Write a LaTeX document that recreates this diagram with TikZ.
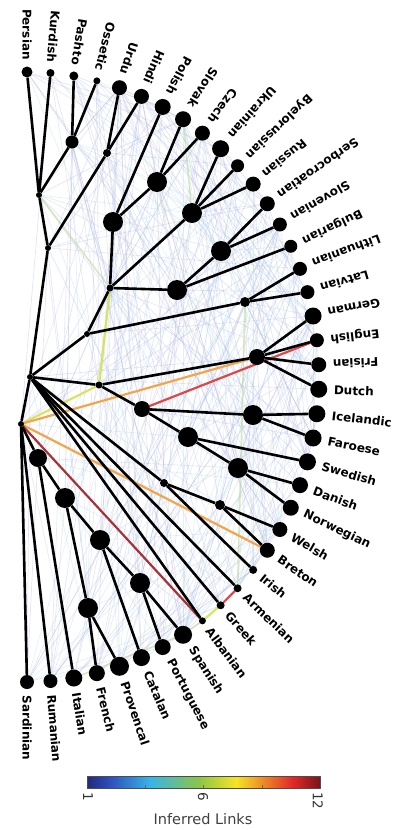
\documentclass[tikz,border=0pt]{standalone}
\usepackage{fontspec}
\setmainfont{DejaVu Sans}
\usepackage{tikz}

\definecolor{jet0}{RGB}{35,40,125}
\definecolor{jet1}{RGB}{45,80,190}
\definecolor{jet2}{RGB}{55,180,232}
\definecolor{jet3}{RGB}{140,198,70}
\definecolor{jet4}{RGB}{246,228,35}
\definecolor{jet5}{RGB}{228,40,40}
\definecolor{jet6}{RGB}{120,20,25}
\definecolor{meshA}{RGB}{165,175,230}
\definecolor{meshB}{RGB}{170,210,235}
\definecolor{meshC}{RGB}{185,185,215}
\definecolor{linkorange}{RGB}{242,165,75}
\definecolor{linkred}{RGB}{225,70,70}
\definecolor{linkbrown}{RGB}{165,50,55}
\definecolor{linkyellow}{RGB}{215,228,95}
\definecolor{linkgreen}{RGB}{185,220,150}

% only the middle half of an axis shading is used
\pgfdeclarehorizontalshading{jet}{100bp}{color(0bp)=(jet0); color(25bp)=(jet0); color(30bp)=(jet1); color(38.5bp)=(jet2); color(49bp)=(jet3); color(57bp)=(jet4); color(69bp)=(jet5); color(75bp)=(jet6); color(100bp)=(jet6)}

\pgfdeclarelayer{meshlayer}
\pgfdeclarelayer{linklayer}
\pgfdeclarelayer{edgelayer}
\pgfsetlayers{meshlayer,linklayer,edgelayer,main}

\begin{document}
\begin{tikzpicture}[x=1pt, y=-1pt, line join=round,
    dot/.style={circle, fill=black, inner sep=0pt},
    edge/.style={line width=2.6pt, black},
    link/.style={line width=2.2pt, line cap=round},
    faintlink/.style={line width=1.6pt, line cap=round, opacity=0.6},
    meshline/.style={line width=0.7pt, opacity=0.32},
    leaflab/.style={font=\bfseries\fontsize{12}{12}\selectfont, inner sep=0pt},
    ticklab/.style={font=\fontsize{13.5}{13.5}\selectfont, text=black!80, inner sep=0pt}]
    \useasboundingbox (0,0) rectangle (397,830);

    % Leaves on the half ellipse, with their labels
    \foreach \lab/\rad [count=\i from 0] in {Persian/5.5, Kurdish/4, Pashto/4.5, Ossetic/3.5,
        Urdu/7.5, Hindi/7.5, Polish/8, Slovak/8, Czech/7.5, Ukrainian/8.5, Byelorussian/6.5,
        Russian/7.5, Serbocroatian/7.5, Slovenian/7, Bulgarian/6.5, Lithuanian/7, Latvian/7,
        German/8.5, English/7, Frisian/7.5, Dutch/8.5, Icelandic/8.5, Faroese/8.5, Swedish/8.5,
        Danish/8, Norwegian/8, Welsh/7.5, Breton/7.5, Irish/4, Armenian/4, Greek/4, Albanian/3.5,
        Spanish/9, Portuguese/8, Catalan/8.5, Provencal/9.5, French/8, Italian/8.5, Rumanian/7,
        Sardinian/7}{
        \pgfmathsetmacro\ang{90-\i*180/39}
        \node[dot, minimum size={2*\rad*1pt}, alias=N\i] (\lab) at ({27+292*cos(\ang)},{377-305*sin(\ang)}) {};
        \ifdim\ang pt>0pt
            \node[leaflab, anchor=east, rotate=\ang+180] (\lab-txt) at ({27+(292+\rad+6.5)*cos(\ang)},{377-(305+\rad+6.5)*sin(\ang)}) {\lab};
        \else
            \node[leaflab, anchor=west, rotate=\ang] (\lab-txt) at ({27+(292+\rad+6.5)*cos(\ang)},{377-(305+\rad+6.5)*sin(\ang)}) {\lab};
        \fi
    }

    % Inner nodes
    \foreach \name/\x/\y/\rad [count=\j from 40] in {hub/30/377/3, root/21/424/3, indoir/48/248/3,
        iranian/39/195/3, pashoss/72/142/6.5, indic/107/153/4, baltosl/87/334/3, slavic/110/288/3.5,
        westsl/113/222/10, czsk/157/182/10, eastsl/192/213/10, southsl/177/290/10, serbslov/221/251/10,
        baltic/245/302/5, germanic/99/385/3.5, westgm/257/357/8, northgm/142/409/8, icfar/253/415/10,
        scand/188/437/10, danor/238/468/10, celtic/164/483/4, brython/220/505/5, romA/38/458/9,
        romB/65/498/10, romC/100/540/10, iberian/140/583/10, gallic/88/608/10}{
        \node[dot, minimum size={2*\rad*1pt}, alias=N\j] (\name) at (\x,\y) {};
    }

    % Faint links
    \begin{pgfonlayer}{meshlayer}
        \pgfmathsetseed{11}
        \foreach \k in {1,...,330}{
            \pgfmathrandominteger{\a}{0}{66}
            \pgfmathrandominteger{\b}{0}{66}
            \pgfmathrandominteger{\c}{1}{3}
            \ifcase\c\or\def\mc{meshA}\or\def\mc{meshB}\or\def\mc{meshC}\fi
            \ifnum\a=\b\else
                \draw[meshline, draw=\mc] (N\a) -- (N\b);
            \fi
        }
    \end{pgfonlayer}

    % Inferred links
    \begin{pgfonlayer}{linklayer}
        \draw[faintlink, linkgreen] (iranian) -- (slavic);
        \draw[faintlink, linkgreen] (Slovak) -- (eastsl);
        \draw[faintlink, linkgreen] (baltic) -- (Armenian);
        \draw[faintlink, linkgreen] (Italian) -- (Spanish);
        \draw[faintlink, linkgreen] (Albanian) -- (Spanish);
        \draw[link, linkyellow] (root) -- (germanic);
        \draw[link, linkyellow] (germanic) -- (slavic);
        \draw[link, linkyellow] (Greek) -- (Albanian);
        \draw[link, linkorange] (root) -- (westgm);
        \draw[link, linkorange] (root) -- (Breton);
        \draw[link, linkred] (northgm) -- (English);
        \draw[link, linkred] (Armenian) -- (Greek);
        \draw[link, linkbrown] (root) -- (Albanian);
    \end{pgfonlayer}

    % Tree
    \begin{pgfonlayer}{edgelayer}
        \foreach \p/\q in {hub/root, hub/indoir, hub/baltosl, hub/germanic, hub/celtic, hub/Armenian,
            hub/Greek, hub/Albanian, indoir/iranian, indoir/indic, iranian/Persian, iranian/Kurdish,
            iranian/pashoss, pashoss/Pashto, pashoss/Ossetic, indic/Urdu, indic/Hindi,
            baltosl/slavic, baltosl/baltic, slavic/westsl, slavic/eastsl, slavic/southsl,
            westsl/Polish, westsl/czsk, czsk/Slovak, czsk/Czech, eastsl/Ukrainian,
            eastsl/Byelorussian, eastsl/Russian, southsl/serbslov, southsl/Bulgarian,
            serbslov/Serbocroatian, serbslov/Slovenian, baltic/Lithuanian, baltic/Latvian,
            germanic/westgm, germanic/northgm, westgm/German, westgm/English, westgm/Frisian,
            westgm/Dutch, northgm/icfar, northgm/scand, icfar/Icelandic, icfar/Faroese,
            scand/Swedish, scand/danor, danor/Danish, danor/Norwegian, celtic/brython,
            celtic/Irish, brython/Welsh, brython/Breton, root/Sardinian, root/Rumanian, root/romA,
            romA/Italian, romA/romB, romB/romC, romB/gallic, romC/iberian, romC/Catalan,
            iberian/Spanish, iberian/Portuguese, gallic/French, gallic/Provencal}
            \draw[edge] (\p) -- (\q);
    \end{pgfonlayer}

    % Colour bar
    \node[shade, shading=jet, draw=black!70, line width=0.5pt, minimum width=233pt,
        minimum height=12pt, inner sep=0pt] (bar) at (203.5,782) {};
    \foreach \f in {0.25,0.5,0.75}
        \draw[black!60, line width=0.5pt] ({87+233*\f},788) -- ({87+233*\f},785);
    \node[ticklab, rotate=-90, anchor=west] (tick-one) at (88,792) {1};
    \node[ticklab, rotate=-90, anchor=west] (tick-six) at (203,792) {6};
    \node[ticklab, rotate=-90, anchor=west] (tick-twelve) at (318,792) {12};
    \node[font=\fontsize{14.5}{14.5}\selectfont, text=black!75, inner sep=0pt] (bar-title) at (203,819) {Inferred Links};
\end{tikzpicture}
\end{document}
